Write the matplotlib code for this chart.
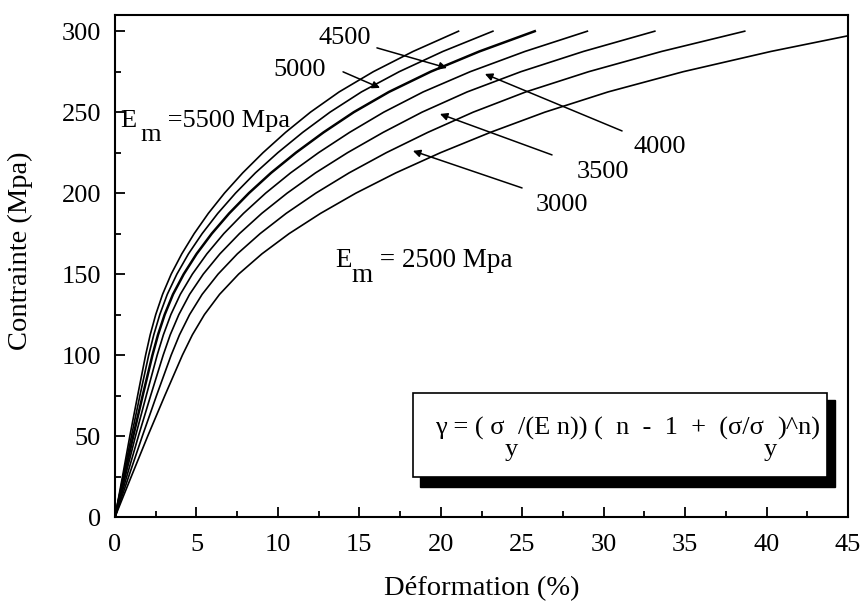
import numpy as np
import matplotlib.pyplot as plt
from matplotlib.patches import Rectangle
from matplotlib.ticker import MultipleLocator

plt.rcParams['font.family'] = ['Liberation Serif', 'DejaVu Serif']

# contrainte (MPa) commune a toutes les courbes
contrainte = [0, 25, 50, 75, 100, 112.5, 125, 137.5, 150, 162.5, 175, 187.5,
              200, 212.5, 225, 237.5, 250, 262.5, 275, 287.5, 300]

# deformation (%) lue sur chaque courbe, selon le module Em (MPa)
def_5500 = [0, 0.46, 0.91, 1.39, 1.88, 2.16, 2.50, 2.92, 3.45, 4.10, 4.86, 5.73,
            6.72, 7.84, 9.09, 10.47, 12.00, 13.76, 15.86, 18.30, 21.09]
def_5000 = [0, 0.50, 1.01, 1.53, 2.07, 2.38, 2.75, 3.21, 3.80, 4.51, 5.35, 6.31,
            7.40, 8.62, 10.00, 11.52, 13.20, 15.13, 17.45, 20.13, 23.20]
def_4500 = [0, 0.56, 1.12, 1.70, 2.30, 2.64, 3.05, 3.56, 4.22, 5.01, 5.94, 7.01,
            8.22, 9.58, 11.11, 12.80, 14.66, 16.82, 19.38, 22.37, 25.77]
def_4000 = [0, 0.63, 1.26, 1.92, 2.59, 2.97, 3.43, 4.01, 4.75, 5.64, 6.68, 7.89,
            9.25, 10.78, 12.50, 14.40, 16.50, 18.92, 21.81, 25.17, 29.00]
def_3500 = [0, 0.72, 1.44, 2.19, 2.96, 3.39, 3.92, 4.58, 5.42, 6.44, 7.64, 9.01,
            10.57, 12.31, 14.28, 16.46, 18.85, 21.62, 24.92, 28.76, 33.14]
def_3000 = [0, 0.84, 1.68, 2.55, 3.45, 3.96, 4.58, 5.35, 6.33, 7.51, 8.91, 10.51,
            12.33, 14.37, 16.66, 19.20, 21.99, 25.22, 29.08, 33.56, 38.66]
def_2500 = [0, 1.00, 2.01, 3.06, 4.14, 4.75, 5.49, 6.42, 7.59, 9.02, 10.69, 12.62,
            14.79, 17.24, 19.99, 23.04, 26.39, 30.27, 34.89, 40.27, 46.39]

courbes = [def_5500, def_5000, def_4500, def_4000, def_3500, def_3000, def_2500]
epaisseurs = [1.2, 1.2, 1.8, 1.2, 1.2, 1.2, 1.2]

fs = 19

fig = plt.figure(figsize=(8.65, 6.04), dpi=100)
ax = fig.add_axes([115/865, 87/604, 733/865, 502/604])

for d, lw in zip(courbes, epaisseurs):
    ax.plot(d, contrainte, color='black', lw=lw)

ax.set_xlim(0, 45)
ax.set_ylim(0, 310)
ax.xaxis.set_major_locator(MultipleLocator(5))
ax.xaxis.set_minor_locator(MultipleLocator(2.5))
ax.yaxis.set_major_locator(MultipleLocator(50))
ax.yaxis.set_minor_locator(MultipleLocator(25))
ax.tick_params(which='both', direction='in', width=1.3, labelsize=fs)
ax.tick_params(which='major', length=7)
ax.tick_params(which='minor', length=4)
ax.tick_params(axis='x', pad=12)
ax.tick_params(axis='y', pad=10)
for s in ax.spines.values():
    s.set_linewidth(1.5)

ax.set_xlabel('Déformation (%)', fontsize=20.5)
ax.set_ylabel('Contrainte (Mpa)', fontsize=20.5)
ax.xaxis.set_label_coords(0.5, -0.118)
ax.yaxis.set_label_coords(-0.112, 0.53)


def texte_indice(x, y, morceaux, taille=fs, **kw):
    # morceaux : (texte, decalage horizontal, decalage vertical) en points
    t = ax.text(x, y, morceaux[0][0], fontsize=taille, va='baseline', **kw)
    dy0 = morceaux[0][2]
    for s, dx, dy in morceaux[1:]:
        t = ax.annotate(s, xy=(1, 0), xycoords=t, xytext=(dx, dy - dy0),
                        textcoords='offset points', va='bottom', fontsize=taille, **kw)
        dy0 = dy


texte_indice(0.31, 241, [('E', 0, 0), ('m', 3, -10.5), (' =5500 Mpa', 0, 0)])
texte_indice(13.5, 154.4, [('E', 0, 0), ('m', 0, -11), (' = 2500 Mpa', 0, 0)], taille=19.5)

# etiquettes et fleches
etiquettes = ['4500', '5000', '4000', '3500', '3000']
pos_txt = [(14.12, 295.9), (11.36, 276.1), (33.46, 228.5), (29.96, 213.1), (27.44, 192.7)]
queues = [(16.08, 289.7), (14.0, 274.9), (31.13, 238.4), (26.83, 223.6), (24.99, 203.2)]
tetes = [(20.38, 277.3), (16.27, 265.0), (22.71, 273.6), (19.95, 248.9), (18.29, 226.1)]
for lab, p, q, h in zip(etiquettes, pos_txt, queues, tetes):
    ax.text(p[0], p[1], lab, fontsize=fs, ha='center', va='center')
    ax.annotate('', xy=h, xytext=q,
                arrowprops=dict(arrowstyle='-|>', color='black', lw=1.1,
                                mutation_scale=11, shrinkA=0, shrinkB=0))

# encadre de la formule avec ombre
ax.add_patch(Rectangle((18.72, 18.5), 44.2 - 18.72, 72.3 - 18.5,
                       facecolor='black', edgecolor='black', zorder=3))
ax.add_patch(Rectangle((18.29, 24.7), 43.7 - 18.29, 76.6 - 24.7,
                       facecolor='white', edgecolor='black', lw=1.2, zorder=4))
texte_indice(19.64, 50.6, [('γ = ( σ', 0, 0), ('y', 0, -15),
                           ('/(E n)) (  n  -  1  +  (σ/σ', 0, 0),
                           ('y', 0, -15), (')^n)', 0, 0)], zorder=5)

fig.savefig('out.png', dpi=100)
